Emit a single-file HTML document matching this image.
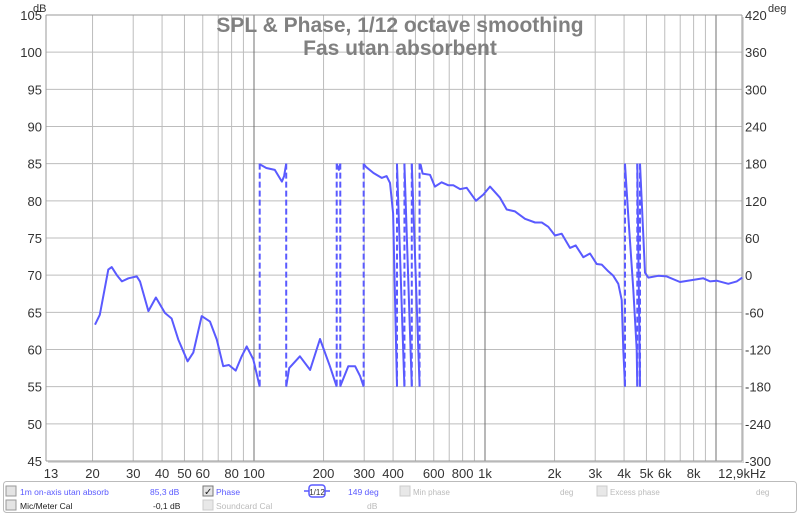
<!DOCTYPE html>
<html><head><meta charset="utf-8"><style>
html,body{margin:0;padding:0;background:#fff;}
body{width:800px;height:515px;overflow:hidden;font-family:"Liberation Sans",Arial,sans-serif;}
svg text{font-family:"Liberation Sans",Arial,sans-serif;}
</style></head><body>
<svg id="chart" width="800" height="515" xmlns="http://www.w3.org/2000/svg">
<rect width="800" height="515" fill="#fff"/>
<g id="grid"></g>
<g id="axes"></g>
<g id="series"></g>
<text x="400" y="32" text-anchor="middle" font-size="21" font-weight="bold" fill="#808080">SPL &amp; Phase, 1/12 octave smoothing</text>
<text x="400" y="55" text-anchor="middle" font-size="21" font-weight="bold" fill="#808080">Fas utan absorbent</text>
<g id="legend">
<rect x="3.5" y="481.5" width="793" height="31" rx="3" fill="#fff" stroke="#bbb"/>
<rect x="6" y="486" width="10" height="10" fill="#e4e4e4" stroke="#999"/>
<text x="20" y="495" font-size="8.5" fill="#5a5aff">1m on-axis utan absorb</text>
<text x="150" y="495" font-size="8.5" fill="#5a5aff">85,3 dB</text>
<rect x="203" y="486" width="10" height="10" fill="#e4e4e4" stroke="#777"/>
<text x="204" y="495" font-size="10" fill="#222">✓</text>
<text x="216" y="495" font-size="8.5" fill="#5a5aff">Phase</text>
<g>
<line x1="304" y1="491" x2="330" y2="491" stroke="#5a5aff" stroke-width="1.5"/>
<rect x="309" y="485" width="16" height="12" rx="3" fill="#fff" stroke="#5a5aff" stroke-width="1.5"/>
<text x="317" y="495" font-size="8" text-anchor="middle" fill="#333">1/12</text>
</g>
<text x="348" y="495" font-size="8.5" fill="#5a5aff">149 deg</text>
<rect x="400" y="486" width="10" height="10" fill="#e8e8e8" stroke="#ccc"/>
<text x="413" y="495" font-size="8" fill="#bbb">Min phase</text>
<text x="560" y="495" font-size="8" fill="#bbb">deg</text>
<rect x="597" y="486" width="10" height="10" fill="#e8e8e8" stroke="#ccc"/>
<text x="610" y="495" font-size="8" fill="#bbb">Excess phase</text>
<text x="756" y="495" font-size="8" fill="#bbb">deg</text>
<rect x="6" y="500" width="10" height="10" fill="#e4e4e4" stroke="#999"/>
<text x="20" y="509" font-size="8.5" fill="#222">Mic/Meter Cal</text>
<text x="153" y="509" font-size="8.5" fill="#222">-0,1 dB</text>
<rect x="203" y="500" width="10" height="10" fill="#e8e8e8" stroke="#ccc"/>
<text x="216" y="509" font-size="8.5" fill="#bbb">Soundcard Cal</text>
<text x="367" y="509" font-size="8.5" fill="#bbb">dB</text>
</g>
</svg>
<script>
const freqs=[20.5,21.5,23.4,24.2,25.5,26.8,28.6,31.1,32.1,34.9,37.6,41.2,44,47,51.6,54.6,59.4,64.5,69,73.6,77.9,83.3,88.5,93,99.3,106,107,113,123,132,135,138,142,158,175,193,213,229,233,237,256,274,288,299,305,329,357,375,388,400,416,448,482,521,527,537,578,607,649,694,729,780,833,914,983,1051,1161,1241,1349,1490,1647,1761,1879,2009,2148,2333,2470,2665,2848,3044,3200,3420,3593,3776,3907,3970,4037,4172,4385,4537,4564,4688,4928,5092,5626,6117,6987,7850,8810,9420,10070,11300,12290,13000];
const phaseDeg=[-80,-64,9,13,0,-10,-5,-2,-10,-58,-36,-61,-70,-104,-139,-125,-66,-75,-104,-147,-145,-154,-131,-115,-136,-181,-182,-187,-190,-209,-200,-179,-150,-131,-153,-103,-147,-182,-190,-178,-147,-147,-163,-181,-185,-195,-203,-200,-211,-260,-541,-900,-1260,-1621,-1622,-1636,-1638,-1657,-1650,-1655,-1655,-1661,-1659,-1680,-1670,-1657,-1675,-1694,-1697,-1709,-1715,-1715,-1722,-1736,-1733,-1756,-1752,-1771,-1765,-1782,-1783,-1794,-1801,-1814,-1840,-1920,-1981,-2065,-2183,-2280,-2341,-2700,-2876,-2884,-2881,-2882,-2891,-2888,-2885,-2890,-2889,-2894,-2890,-2884];
const dbTicks=[105,100,95,90,85,80,75,70,65,60,55,50,45];
const degTicks=[420,360,300,240,180,120,60,0,-60,-120,-180,-240,-300];
const gridFreqs=[20,30,40,50,60,70,80,90,100,200,300,400,500,600,700,800,900,1000,2000,3000,4000,5000,6000,7000,8000,9000,10000];
const xTickFreqs=[13,20,30,40,50,60,80,100,200,300,400,600,800,1000,2000,3000,4000,5000,6000,8000];
const xTickLabels=["13","20","30","40","50","60","80","100","200","300","400","600","800","1k","2k","3k","4k","5k","6k","8k"];
const L=46,R=742,T=15,B=461;
const NS="http://www.w3.org/2000/svg";
function x(f){return 254+231*Math.log10(f/100);}
function yDb(v){return T+(105-v)*(B-T)/60;}
function yDeg(d){return T+(420-d)*(B-T)/720;}
function mk(tag,attrs,parent){const e=document.createElementNS(NS,tag);for(const k in attrs)e.setAttribute(k,attrs[k]);parent.appendChild(e);return e;}
const grid=document.getElementById('grid'),axes=document.getElementById('axes'),ser=document.getElementById('series');
mk('rect',{x:L+2,y:T+2,width:R-L,height:B-T,fill:'#d8d8d8'},grid);
mk('rect',{x:L,y:T,width:R-L,height:B-T,fill:'#fff'},grid);
dbTicks.forEach(v=>{
  const l=mk('line',{x1:L,x2:R,y1:yDb(v),y2:yDb(v),stroke:'#bdbdbd','stroke-width':1},grid);
  
  
  const t=mk('text',{x:L-4,y:yDb(v)+5,'text-anchor':'end','font-size':13,fill:'#333'},axes);
  t.textContent=v;
  
  
});
degTicks.forEach(v=>{
  const t=mk('text',{x:R+3,y:yDeg(v)+5,'font-size':13,fill:'#333'},axes);
  t.textContent=v;
  
  
});
gridFreqs.forEach(f=>{
  const major=(f===100||f===1000||f===10000);
  const l=mk('line',{x1:x(f),x2:x(f),y1:T,y2:B,stroke:major?'#707070':'#bdbdbd','stroke-width':1},grid);
  
  
});
xTickFreqs.forEach((f,i)=>{
  const t=mk('text',{x:Math.max(x(f),L+5),y:478,'text-anchor':'middle','font-size':13,fill:'#333'},axes);
  t.textContent=xTickLabels[i];
  
  
});
const tl=mk('text',{x:R,y:478,'text-anchor':'middle','font-size':13,fill:'#333'},axes);
tl.textContent='12,9kHz';


const u1=mk('text',{x:33,y:12,'font-size':11,fill:'#333'},axes);u1.textContent='dB';


const u2=mk('text',{x:768,y:12,'font-size':11,fill:'#333'},axes);u2.textContent='deg';


mk('line',{x1:L,x2:L,y1:T,y2:B,stroke:'#999'},axes);
mk('line',{x1:L,x2:R,y1:B,y2:B,stroke:'#999'},axes);
mk('line',{x1:R,x2:R,y1:T,y2:B,stroke:'#999'},axes);
mk('line',{x1:L,x2:R,y1:T,y2:T,stroke:'#999'},axes);
const col='#5a5aff';
let d='';let wraps=[];let lastX=null,lastY=null;
function kOf(v){return Math.floor((v+180)/360);}
for(let i=0;i<freqs.length-1;i++){
  const x0=x(freqs[i]),x1=x(freqs[i+1]),v0=phaseDeg[i],v1=phaseDeg[i+1];
  const bs=[];
  const lo=Math.min(v0,v1),hi=Math.max(v0,v1);
  for(let k=Math.ceil((lo+180)/360);k<=Math.floor((hi+180)/360);k++){const b=-180+360*k;if(b>lo&&b<hi)bs.push(b);}
  bs.sort((a,b)=>v1<v0?b-a:a-b);
  const pts=[[x0,v0]];bs.forEach(b=>{const t=(b-v0)/(v1-v0);pts.push([x0+t*(x1-x0),b]);});pts.push([x1,v1]);
  for(let j=0;j<pts.length-1;j++){
    const vm=(pts[j][1]+pts[j+1][1])/2;const k=kOf(vm);
    const xa=pts[j][0],xb=pts[j+1][0];
    const ya=yDeg(pts[j][1]-360*k),yb=yDeg(pts[j+1][1]-360*k);
    if(lastY===null||Math.abs(ya-lastY)>1||Math.abs(xa-lastX)>0.5){
      if(lastY!==null)wraps.push(xa);
      d+='M'+xa.toFixed(1)+','+ya.toFixed(1);
    }
    d+='L'+xb.toFixed(1)+','+yb.toFixed(1);
    lastX=xb;lastY=yb;
  }
}
wraps.forEach(wx=>{
  const w=mk('line',{x1:wx,x2:wx,y1:yDeg(180),y2:yDeg(-180),stroke:col,'stroke-width':2,'stroke-dasharray':'6,3'},ser);
  
  
});
const p=mk('path',{d:d,fill:'none',stroke:col,'stroke-width':2,'stroke-linejoin':'round'},ser);


</script>
</body></html>
